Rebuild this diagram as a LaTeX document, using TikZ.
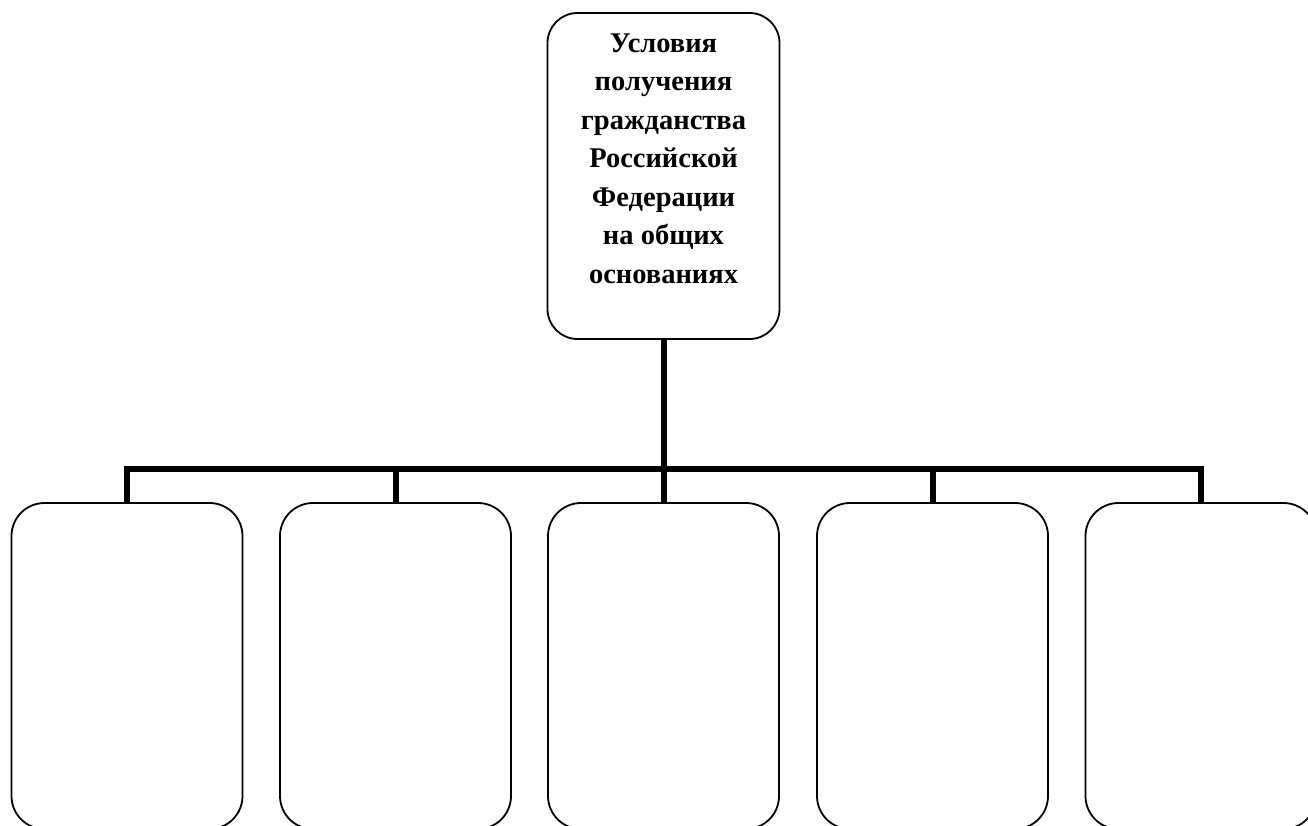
\documentclass[tikz,border=0pt]{standalone}
\usepackage{fontspec}
\setmainfont{Liberation Serif}
\begin{document}
\begin{tikzpicture}[x=1pt,y=-1pt,
  box/.style={draw=black,line width=1.8pt,rounded corners=33pt,fill=white,inner sep=0pt},
  topbox/.style={box,rounded corners=30pt,minimum width=232pt,minimum height=326pt},
  leafbox/.style={box,minimum width=231pt,minimum height=326pt},
  conn/.style={draw=black,line width=6pt,line join=miter},
  title/.style={font=\fontsize{28.5}{38.5}\selectfont\bfseries,align=center,inner sep=0pt,anchor=north}
]
\useasboundingbox (0,0) rectangle (1308,825);
\fill[white] (0,0) rectangle (1308,825);
\clip (0,0) rectangle (1308,825);
\node[topbox] (top) at (663.5,176) {};
\node[title] (toptext) at (663.5,33.6) {Условия\\получения\\гражданства\\Российской\\Федерации\\на общих\\основаниях};
\node[leafbox] (b1) at (127,666) {};
\node[leafbox] (b2) at (395.5,666) {};
\node[leafbox] (b3) at (663.5,666) {};
\node[leafbox] (b4) at (932.5,666) {};
\node[leafbox] (b5) at (1201,666) {};
\coordinate (bar) at (663.5,468.7);
\draw[conn] (top.south) -- (top.south |- bar);
\draw[conn] (b1.north) -- (b1.north |- bar) -- (b5.north |- bar) -- (b5.north);
\draw[conn] (b2.north |- bar) -- (b2.north);
\draw[conn] (b3.north |- bar) -- (b3.north);
\draw[conn] (b4.north |- bar) -- (b4.north);
\end{tikzpicture}
\end{document}
